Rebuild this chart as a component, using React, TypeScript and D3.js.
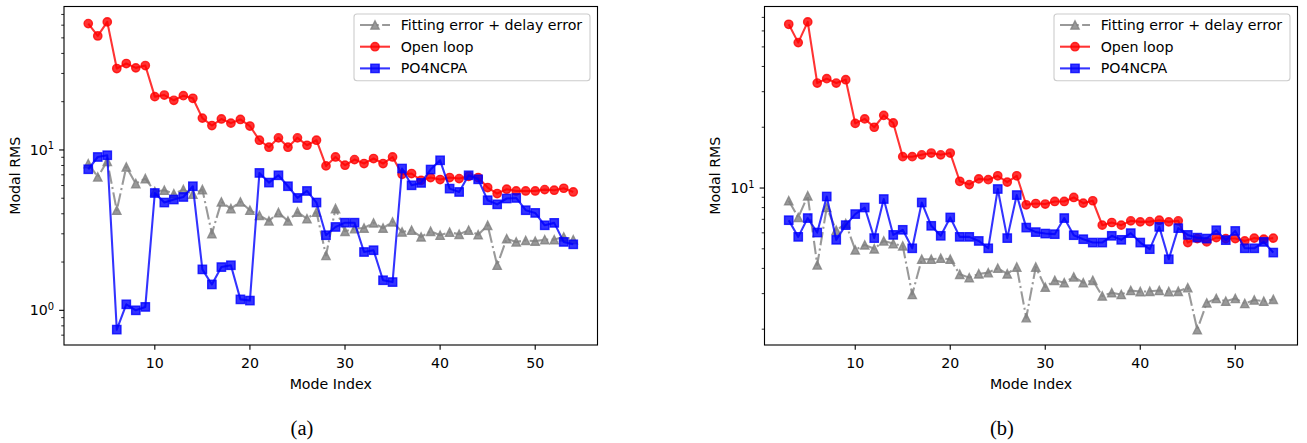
import React, { useEffect, useRef } from "react";
import * as d3 from "d3";

// --- data (mode index 3..54) ---
const modeIndex = [
  3, 4, 5, 6, 7, 8, 9, 10, 11, 12, 13, 14, 15, 16, 17, 18, 19, 20, 21, 22, 23, 24, 25, 26, 27, 28,
  29, 30, 31, 32, 33, 34, 35, 36, 37, 38, 39, 40, 41, 42, 43, 44, 45, 46, 47, 48, 49, 50, 51, 52, 53, 54,
];

// panel (a)
const fittingA = [
  8.22, 6.79, 8.5, 4.21, 7.83, 6.17, 6.63, 5.5, 5.61, 5.34, 5.66, 5.3, 5.66, 3.01, 4.74, 4.31, 4.74, 4.21,
  3.91, 3.61, 4.07, 3.61, 4.1, 3.73, 4.1, 2.2, 4.31, 3.11, 3.23, 3.26, 3.51, 3.26, 3.56, 3.08, 3.16, 2.87,
  3.11, 2.94, 3.07, 2.98, 3.16, 2.96, 3.39, 1.91, 2.8, 2.67, 2.73, 2.7, 2.76, 2.76, 2.87, 2.76,
];
const openLoopA = [
  61.4, 51.4, 62.9, 32.2, 34.6, 32.5, 33.6, 21.5, 22.0, 20.4, 21.8, 21.0, 15.8, 14.2, 15.6, 14.7, 15.5, 14.1,
  11.5, 10.4, 11.9, 10.4, 11.9, 10.7, 11.5, 7.95, 9.04, 8.03, 8.71, 8.23, 8.84, 8.23, 9.04, 7.05, 7.13, 6.47,
  6.73, 6.54, 6.73, 6.63, 6.85, 6.73, 5.83, 5.35, 5.69, 5.55, 5.55, 5.55, 5.66, 5.61, 5.77, 5.47,
];
const po4ncpaA = [
  7.58, 9.04, 9.27, 0.758, 1.09, 1.0, 1.05, 5.39, 4.7, 4.91, 5.09, 5.94, 1.8, 1.45, 1.86, 1.91, 1.17, 1.15,
  7.19, 6.26, 6.95, 5.94, 5.02, 5.55, 4.7, 2.94, 3.31, 3.52, 3.52, 2.31, 2.37, 1.54, 1.5, 7.66, 6.02, 6.23,
  7.55, 8.62, 5.74, 5.47, 6.95, 6.56, 4.86, 4.58, 4.98, 5.02, 4.21, 4.05, 3.39, 3.51, 2.67, 2.58,
];

// panel (b)
const fittingB = [
  8.65, 7.15, 9.15, 4.16, 8.01, 6.18, 6.67, 4.94, 5.23, 5.0, 5.47, 5.31, 5.17, 2.97, 4.44, 4.44, 4.49, 4.44,
  3.74, 3.6, 3.76, 3.81, 4.01, 3.76, 4.06, 2.28, 4.06, 3.23, 3.49, 3.4, 3.63, 3.4, 3.49, 2.92, 3.03, 2.97,
  3.11, 3.07, 3.08, 3.11, 3.07, 3.08, 3.21, 1.99, 2.7, 2.84, 2.75, 2.84, 2.68, 2.79, 2.75, 2.81,
];
const openLoopB = [
  64.7, 52.5, 66.5, 33.1, 34.8, 33.1, 34.4, 20.9, 22.0, 20.0, 22.9, 21.0, 14.3, 14.3, 14.6, 14.9, 14.6, 14.9,
  10.8, 10.4, 11.1, 11.0, 11.5, 10.7, 11.5, 8.26, 8.38, 8.33, 8.58, 8.58, 8.98, 8.42, 8.65, 6.55, 6.75, 6.55,
  6.88, 6.8, 6.82, 6.93, 6.8, 6.88, 5.37, 5.62, 5.41, 5.68, 5.62, 5.62, 5.47, 5.65, 5.58, 5.65,
];
const po4ncpaB = [
  6.93, 5.73, 7.1, 6.02, 9.08, 5.54, 6.55, 7.43, 8.01, 5.65, 8.82, 5.86, 6.21, 5.03, 8.48, 6.5, 5.8, 7.15,
  5.73, 5.73, 5.47, 5.03, 9.89, 5.65, 9.23, 6.37, 6.05, 5.95, 5.91, 7.1, 5.84, 5.58, 5.37, 5.37, 5.8, 5.54,
  5.98, 5.37, 4.98, 6.42, 4.44, 6.33, 5.86, 5.68, 5.62, 6.18, 5.52, 6.13, 5.03, 5.03, 5.41, 4.79,
];

const seriesNames = ["Fitting error + delay error", "Open loop", "PO4NCPA"];
const xTickValues = [10, 20, 30, 40, 50];
const captions = ["(a)", "(b)"];

const W = 1307;
const H = 443;
const FONT = "DejaVu Sans";
const FS = 14.2;
const PT = 1.39; // px per point

const styles = [
  { color: "#808080", marker: "triangle", dash: `${6.4 * 1.5 * PT},${1.6 * 1.5 * PT},${1 * 1.5 * PT},${1.6 * 1.5 * PT}` },
  { color: "#ff0000", marker: "circle", dash: null },
  { color: "#0000ff", marker: "square", dash: null },
];

function drawMarker(g, kind, cx, cy, color) {
  const r = 3 * PT;
  let el;
  if (kind === "circle") {
    el = g.append("circle").attr("cx", cx).attr("cy", cy).attr("r", r);
  } else if (kind === "square") {
    el = g.append("rect").attr("x", cx - r).attr("y", cy - r).attr("width", 2 * r).attr("height", 2 * r);
  } else {
    el = g.append("path").attr("d", `M${cx},${cy - r}L${cx + r},${cy + r}L${cx - r},${cy + r}Z`);
  }
  el.attr("fill", color).attr("stroke", color).attr("stroke-width", PT)
    .attr("fill-opacity", 0.8).attr("stroke-opacity", 0.8);
}

export default function App() {
  const svgRef = useRef(null);

  useEffect(() => {
    const svg = d3.select(svgRef.current);
    svg.selectAll("*").remove();

    const panels = [
      { left: 64, right: 597.5, series: [fittingA, openLoopA, po4ncpaA], caption: captions[0], capX: 302, ylabX: 14.5 },
      { left: 764.5, right: 1297.5, series: [fittingB, openLoopB, po4ncpaB], caption: captions[1], capX: 1002, ylabX: 714.5 },
    ];
    const top = 6.5;
    const bottom = 345;

    panels.forEach(p => {
      const g = svg.append("g");

      // matplotlib-style 5% margins
      const xMin = d3.min(modeIndex), xMax = d3.max(modeIndex);
      const xPad = (xMax - xMin) * 0.05;
      const x = d3.scaleLinear().domain([xMin - xPad, xMax + xPad]).range([p.left, p.right]);

      const all = p.series.flat();
      const lo = Math.log10(d3.min(all)), hi = Math.log10(d3.max(all));
      const yPad = (hi - lo) * 0.05;
      const y = d3.scaleLog().domain([10 ** (lo - yPad), 10 ** (hi + yPad)]).range([bottom, top]);

      // --- series ---
      p.series.forEach((vals, si) => {
        const st = styles[si];
        const line = d3.line().x((d, i) => x(modeIndex[i])).y(d => y(d));
        g.append("path")
          .attr("d", line(vals))
          .attr("fill", "none")
          .attr("stroke", st.color)
          .attr("stroke-opacity", 0.8)
          .attr("stroke-width", 1.5 * PT)
          .attr("stroke-dasharray", st.dash)
          .attr("stroke-linejoin", "round");
        vals.forEach((v, i) => drawMarker(g, st.marker, x(modeIndex[i]), y(v), st.color));
      });

      // --- frame ---
      g.append("rect")
        .attr("x", p.left).attr("y", top)
        .attr("width", p.right - p.left).attr("height", bottom - top)
        .attr("fill", "none").attr("stroke", "#000").attr("stroke-width", 0.8 * PT);

      // --- x ticks ---
      xTickValues.forEach(t => {
        g.append("line")
          .attr("x1", x(t)).attr("x2", x(t))
          .attr("y1", bottom).attr("y2", bottom + 3.5 * PT)
          .attr("stroke", "#000").attr("stroke-width", 0.8 * PT);
        g.append("text")
          .attr("x", x(t)).attr("y", 368)
          .attr("text-anchor", "middle")
          .attr("font-family", FONT).attr("font-size", FS)
          .text(t);
      });

      // --- y ticks (log) ---
      const [d0, d1] = y.domain();
      y.ticks().filter(t => t >= d0 && t <= d1).forEach(t => {
        const major = Math.abs(Math.log10(t) - Math.round(Math.log10(t))) < 1e-9;
        g.append("line")
          .attr("x1", p.left).attr("x2", p.left - (major ? 3.5 : 2) * PT)
          .attr("y1", y(t)).attr("y2", y(t))
          .attr("stroke", "#000").attr("stroke-width", (major ? 0.8 : 0.6) * PT);
        if (major) {
          const txt = g.append("text")
            .attr("x", p.left - 9.8).attr("y", y(t) + 5)
            .attr("text-anchor", "end")
            .attr("font-family", FONT).attr("font-size", FS);
          txt.append("tspan").text("10");
          txt.append("tspan").attr("dy", -5.5).attr("font-size", FS * 0.7).text(Math.round(Math.log10(t)));
        }
      });

      // --- axis labels ---
      g.append("text")
        .attr("x", (p.left + p.right) / 2).attr("y", 389)
        .attr("text-anchor", "middle")
        .attr("font-family", FONT).attr("font-size", FS)
        .text("Mode Index");
      g.append("text")
        .attr("transform", `translate(${p.ylabX + 5},${(top + bottom) / 2}) rotate(-90)`)
        .attr("text-anchor", "middle")
        .attr("font-family", FONT).attr("font-size", FS)
        .text("Modal RMS");

      // --- legend ---
      const lw = 236, lh = 66.7;
      const lx = p.right - 7.5 - lw, ly = top + 7.5;
      g.append("rect")
        .attr("x", lx).attr("y", ly).attr("width", lw).attr("height", lh)
        .attr("rx", 3)
        .attr("fill", "#fff").attr("fill-opacity", 0.8)
        .attr("stroke", "#cccccc").attr("stroke-width", 1.1);
      seriesNames.forEach((name, si) => {
        const st = styles[si];
        const cy = ly + 11 + si * 21.7;
        g.append("line")
          .attr("x1", lx + 6).attr("x2", lx + 36)
          .attr("y1", cy).attr("y2", cy)
          .attr("stroke", st.color).attr("stroke-opacity", 0.8)
          .attr("stroke-width", 1.5 * PT)
          .attr("stroke-dasharray", st.dash);
        drawMarker(g, st.marker, lx + 21, cy, st.color);
        g.append("text")
          .attr("x", lx + 46.7).attr("y", cy + 5)
          .attr("font-family", FONT).attr("font-size", FS)
          .text(name);
      });

      // --- caption ---
      svg.append("text")
        .attr("x", p.capX).attr("y", 434.5)
        .attr("text-anchor", "middle")
        .attr("font-family", "Liberation Serif").attr("font-size", 20.5)
        .text(p.caption);
    });
  }, []);

  return (
    <svg
      ref={svgRef}
      width={W}
      height={H}
      style={{ position: "absolute", left: 0, top: 0, background: "#fff" }}
    />
  );
}
